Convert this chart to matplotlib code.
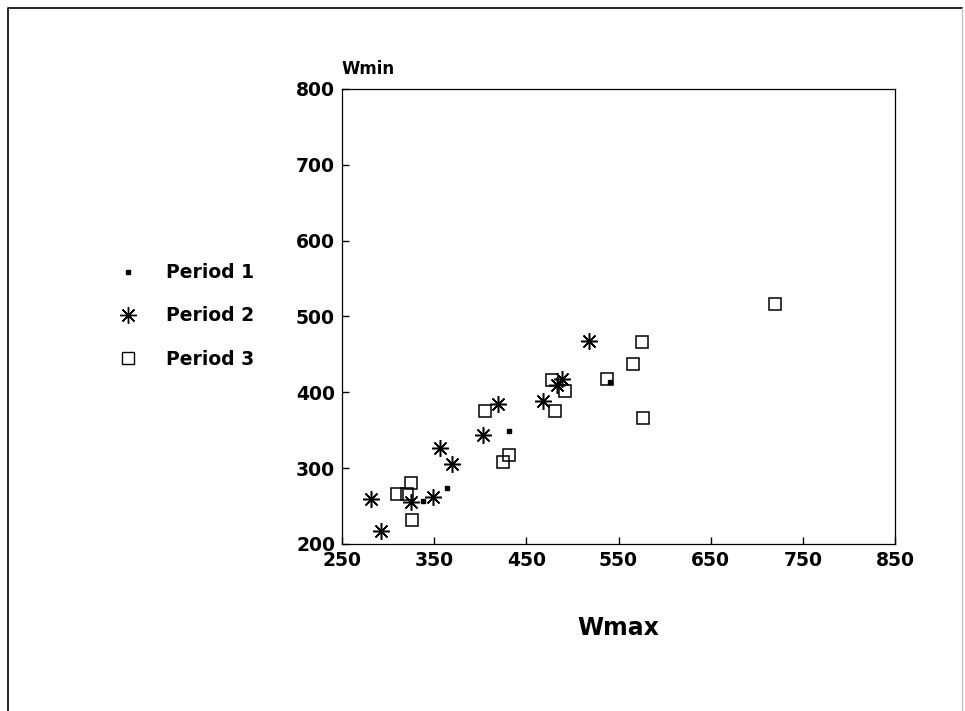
"""Scatter of Wmin against Wmax for three periods, drawn in the style of an old scanned figure."""

import matplotlib.pyplot as plt
from matplotlib.lines import Line2D

# Period 1: small filled squares
p1_wmax = [338, 364, 431, 541]
p1_wmin = [257, 274, 349, 414]

# Period 2: asterisks
p2_wmax = [282, 292, 325, 349, 356, 369, 403, 419, 468, 483, 489, 518]
p2_wmin = [259, 217, 255, 262, 326, 305, 343, 384, 388, 409, 417, 468]

# Period 3: open squares
p3_wmax = [310, 320, 325, 326, 425, 431, 405, 478, 492, 481, 538, 566, 576, 577, 720]
p3_wmin = [266, 266, 280, 232, 308, 317, 375, 416, 401, 375, 417, 437, 466, 366, 516]

x_ticks = [250, 350, 450, 550, 650, 750, 850]
y_ticks = [200, 300, 400, 500, 600, 700, 800]
labels = ['Period 1', 'Period 2', 'Period 3']

fig = plt.figure(figsize=(9.65, 7.11), dpi=100)
ax = fig.add_axes([0.3544, 0.235, 0.5731, 0.640])

asterisk = (8, 2, 0)
ax.plot(p3_wmax, p3_wmin, linestyle='none', marker='s', markersize=9,
        markerfacecolor='none', markeredgecolor='black', markeredgewidth=1.1)
ax.plot(p2_wmax, p2_wmin, linestyle='none', marker=asterisk, markersize=12,
        color='black', markeredgewidth=1.1)
ax.plot(p1_wmax, p1_wmin, linestyle='none', marker='s', markersize=3.5,
        color='black')

ax.set_xlim(x_ticks[0], x_ticks[-1])
ax.set_ylim(y_ticks[0], y_ticks[-1])
ax.set_xticks(x_ticks)
ax.set_yticks(y_ticks)
ax.tick_params(direction='in', length=5, width=1, top=False, right=False,
               labelsize=13.5, pad=5)
for lab in ax.get_xticklabels() + ax.get_yticklabels():
    lab.set_fontweight('bold')
for spine in ax.spines.values():
    spine.set_linewidth(0.9)

ax.set_xlabel('Wmax', fontsize=17, fontweight='bold', labelpad=33)
ax.annotate('Wmin', xy=(0, 1), xycoords='axes fraction', xytext=(0, 8),
            textcoords='offset points', fontsize=12, fontweight='bold',
            ha='left', va='bottom')

handles = [
    Line2D([], [], linestyle='none', marker='s', markersize=3.5, color='black'),
    Line2D([], [], linestyle='none', marker=asterisk, markersize=12,
           color='black', markeredgewidth=1.0),
    Line2D([], [], linestyle='none', marker='s', markersize=9,
           markerfacecolor='none', markeredgecolor='black', markeredgewidth=1.0),
]
fig.legend(handles, labels, loc='upper left', bbox_to_anchor=(0.1229, 0.630),
           frameon=False, handlelength=1.0, handletextpad=1.55,
           labelspacing=1.3, borderpad=0, borderaxespad=0,
           prop={'size': 13.5, 'weight': 'bold'})

# outer frame of the scanned page
fig.add_artist(Line2D([0.0085, 0.0085, 0.9969], [0.0, 0.9885, 0.9885],
                      transform=fig.transFigure, color='black', linewidth=1.2))
fig.add_artist(Line2D([0.9969, 0.9969], [0.9885, 0.0],
                      transform=fig.transFigure, color='#bbbbbb', linewidth=0.8))

fig.savefig('out.png', dpi=100)
plt.close(fig)
